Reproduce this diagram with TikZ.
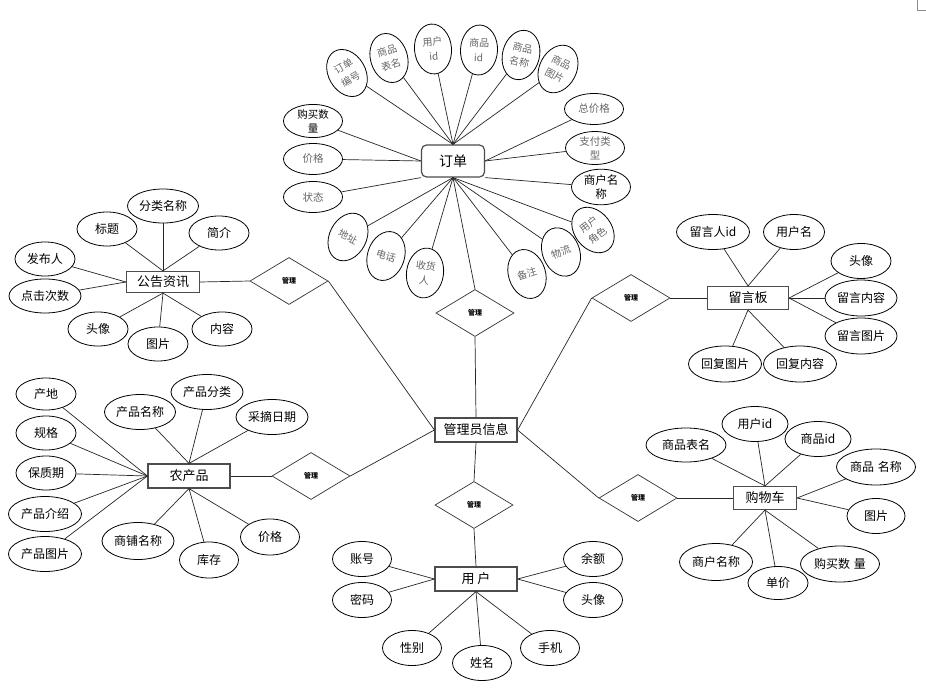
\documentclass[tikz,border=0pt]{standalone}
\usepackage{fontspec}
\setmainfont{Noto Sans CJK SC}
\usetikzlibrary{shapes.geometric}
\begin{document}
\begin{tikzpicture}[x=1pt,y=-1pt,
  attr/.style={ellipse, draw, line width=0.8pt, minimum width=60pt, minimum height=34pt, inner sep=0pt, align=center, font=\fontsize{12}{13}\selectfont},
  wattr/.style={attr, minimum width=73pt, minimum height=35pt},
  oattr/.style={attr, minimum width=59pt, minimum height=31pt, text=black!60, font=\fontsize{10.5}{14}\selectfont},
  rattr/.style={ellipse, draw, line width=0.8pt, minimum width=37pt, minimum height=50pt, inner sep=0pt, align=center, text=black!60, font=\fontsize{10}{14.5}\selectfont},
  ent/.style={rectangle, draw=black!70, line width=1.2pt, inner sep=0pt, font=\fontsize{13}{15}\selectfont},
  rel/.style={diamond, draw=black!80, line width=0.7pt, minimum width=78pt, minimum height=47pt, inner sep=0pt, font=\bfseries\fontsize{7}{8}\selectfont},
  link/.style={draw=black!85, line width=0.7pt}]
\useasboundingbox (0,0) rectangle (926,690);
\fill[white] (0,0) rectangle (926,690);
\draw[black!45, line width=0.8pt] (917,0) -- (917,10) -- (926,10);

% entities
\node[ent, rounded corners=5pt, minimum width=63pt, minimum height=32pt, font=\fontsize{14}{16}\selectfont] (order) at (453,161) {订单};
\node[ent, minimum width=82pt, minimum height=24pt] (admin) at (476,430) {管理员信息};
\node[ent, minimum width=82pt, minimum height=24pt] (user) at (476,579) {用 户};
\node[ent, minimum width=73pt, minimum height=21pt] (notice) at (163,282) {公告资讯};
\node[ent, minimum width=81pt, minimum height=23pt] (board) at (748,298) {留言板};
\node[ent, minimum width=82pt, minimum height=24pt] (farm) at (189,476) {农产品};
\node[ent, minimum width=63pt, minimum height=23pt] (cart) at (765,498) {购物车};

% relations
\node[rel] (d1) at (475,313) {管理};
\node[rel] (d2) at (289,281) {管理};
\node[rel] (d3) at (631,298) {管理};
\node[rel] (d4) at (311,476) {管理};
\node[rel] (d5) at (638,498) {管理};
\node[rel] (d6) at (474,505) {管理};

\path[link] (order.south) -- (d1.north);
\path[link] (d1.south) -- (admin.north);
\path[link] (notice.east) -- (d2.west);
\path[link] (d2.east) -- (admin.west);
\path[link] (d3.east) -- (board.west);
\path[link] (d3.west) -- (admin.east);
\path[link] (farm.east) -- (d4.west);
\path[link] (d4.east) -- (admin.west);
\path[link] (d5.east) -- (cart.west);
\path[link] (d5.west) -- (admin.east);
\path[link] (admin.south) -- (d6.north);
\path[link] (d6.south) -- (user.north);

% order attributes
\node[rattr, rotate=30] (o1) at (347,73) {订单\\编号};
\node[rattr, rotate=17] (o2) at (389,58) {商品\\表名};
\node[rattr, rotate=5] (o3) at (433,49) {用户\\id};
\node[rattr, rotate=-3] (o4) at (479,50) {商品\\id};
\node[rattr, rotate=-14] (o5) at (521,55) {商品\\名称};
\node[rattr, rotate=-27] (o6) at (558,69) {商品\\图片};
\node[oattr, text=black] (o7) at (313,121) {购买数\\量};
\node[oattr] (o8) at (313,159) {价格};
\node[oattr] (o9) at (313,197) {状态};
\node[oattr] (o10) at (594,109) {总价格};
\node[oattr] (o11) at (595,148) {支付类\\型};
\node[oattr, text=black, font=\fontsize{11.5}{14.5}\selectfont] (o12) at (601,187) {商户名\\称};
\node[rattr, rotate=-27] (o13) at (348,237) {地址};
\node[rattr, rotate=-18] (o14) at (386,256) {电话};
\node[rattr, rotate=-8] (o15) at (425,273) {收货\\人};
\node[rattr, rotate=18] (o16) at (527,274) {备注};
\node[rattr, rotate=22] (o17) at (561,252) {物流};
\node[rattr, rotate=38] (o18) at (593,230) {用户\\角色};
\foreach \i in {1,...,6} \path[link] (o\i) -- (order.north);
\path[link] (o7) -- (order.west);
\path[link] (o8) -- (order.west);
\path[link] (o9) -- (order.south west);
\path[link] (o10) -- (order.east);
\path[link] (o11) -- (order.east);
\path[link] (o12) -- (order.south east);
\foreach \i in {13,...,18} \path[link] (o\i) -- (order.south);

% notice attributes
\node[attr, minimum width=71pt] (n1) at (163,206) {分类名称};
\node[attr] (n2) at (107,229) {标题};
\node[attr] (n3) at (219,233) {简介};
\node[attr] (n4) at (45,259) {发布人};
\node[attr, minimum width=72pt] (n5) at (45,296) {点击次数};
\node[attr] (n6) at (98,329) {头像};
\node[attr] (n7) at (158,344) {图片};
\node[attr] (n8) at (222,329) {内容};
\foreach \i in {1,2,3} \path[link] (n\i) -- (notice.north);
\foreach \i in {4,5} \path[link] (n\i) -- (notice.west);
\foreach \i in {6,7,8} \path[link] (n\i) -- (notice.south);

% board attributes
\node[wattr] (b1) at (713,232) {留言人id};
\node[attr, minimum width=61pt, minimum height=35pt] (b2) at (794,232) {用户名};
\node[attr, minimum height=35pt] (b3) at (861,261) {头像};
\node[wattr, minimum width=72pt, minimum height=36pt] (b4) at (861,298) {留言内容};
\node[wattr, minimum width=72pt, minimum height=36pt] (b5) at (861,336) {留言图片};
\node[wattr, minimum height=36pt] (b6) at (725,364) {回复图片};
\node[wattr, minimum height=36pt] (b7) at (800,364) {回复内容};
\foreach \i in {1,2} \path[link] (b\i) -- (board.north);
\foreach \i in {3,4,5} \path[link] (b\i) -- (board.east);
\foreach \i in {6,7} \path[link] (b\i) -- (board.south);

% farm product attributes
\node[attr, minimum height=32pt] (f1) at (46,394) {产地};
\node[attr] (f2) at (46,433) {规格};
\node[attr] (f3) at (46,473) {保质期};
\node[wattr] (f4) at (45,514) {产品介绍};
\node[wattr] (f5) at (45,554) {产品图片};
\node[wattr, minimum width=71pt] (f6) at (140,412) {产品名称};
\node[wattr, minimum width=72pt] (f7) at (207,392) {产品分类};
\node[wattr, minimum width=72pt] (f8) at (272,417) {采摘日期};
\node[wattr, minimum width=72pt, minimum height=37pt] (f9) at (138,541) {商铺名称};
\node[attr, minimum width=59pt, minimum height=36pt] (f10) at (209,560) {库存};
\node[attr, minimum width=59pt, minimum height=36pt] (f11) at (270,537) {价格};
\foreach \i in {1,...,5} \path[link] (f\i) -- (farm.west);
\foreach \i in {6,7,8} \path[link] (f\i) -- (farm.north);
\foreach \i in {9,10,11} \path[link] (f\i) -- (farm.south);

% cart attributes
\node[wattr, minimum width=80pt, minimum height=34pt] (c1) at (686,445) {商品表名};
\node[attr, minimum width=66pt, minimum height=35pt] (c2) at (755,424) {用户id};
\node[attr, minimum width=66pt, minimum height=35pt] (c3) at (818,439) {商品id};
\node[wattr, minimum width=79pt, minimum height=36pt] (c4) at (876,467) {商品\hspace{0.3em}名称};
\node[attr, minimum width=58pt, minimum height=35pt] (c5) at (876,516) {图片};
\node[wattr, minimum height=37pt] (c6) at (716,562) {商户名称};
\node[attr, minimum height=33pt] (c7) at (778,583) {单价};
\node[wattr, minimum width=79pt, minimum height=36pt] (c8) at (840,564) {购买数\hspace{0.3em}量};
\foreach \i in {1,2,3} \path[link] (c\i) -- (cart.north);
\foreach \i in {4,5} \path[link] (c\i) -- (cart.east);
\foreach \i in {6,7,8} \path[link] (c\i) -- (cart.south);

% user attributes
\node[attr, minimum width=59pt, minimum height=35pt] (u1) at (362,559) {账号};
\node[attr, minimum width=59pt, minimum height=35pt] (u2) at (362,600) {密码};
\node[attr, minimum width=59pt, minimum height=35pt] (u3) at (593,559) {余额};
\node[attr, minimum width=59pt, minimum height=35pt] (u4) at (593,600) {头像};
\node[attr, minimum width=59pt, minimum height=35pt] (u5) at (412,648) {性别};
\node[attr, minimum width=59pt, minimum height=35pt] (u6) at (482,663) {姓名};
\node[attr, minimum width=59pt, minimum height=35pt] (u7) at (550,648) {手机};
\foreach \i in {1,2} \path[link] (u\i) -- (user.west);
\foreach \i in {3,4} \path[link] (u\i) -- (user.east);
\foreach \i in {5,6,7} \path[link] (u\i) -- (user.south);
\end{tikzpicture}
\end{document}
